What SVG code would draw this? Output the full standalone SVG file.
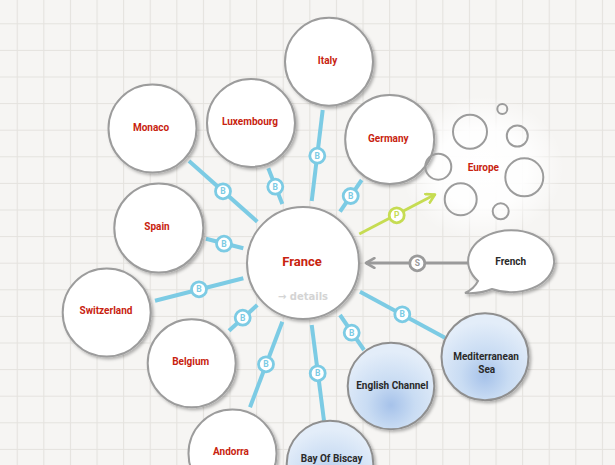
<svg xmlns="http://www.w3.org/2000/svg" width="615" height="465" viewBox="0 0 615 465">
<defs>
<pattern id="grid" x="16.7" y="23.3" width="26.6" height="26.6" patternUnits="userSpaceOnUse">
<path d="M0 0.5H26.6M0.5 0V26.6" stroke="#e4e2de" stroke-width="1.2" fill="none"/>
</pattern>
<filter id="sh" x="-20%" y="-20%" width="150%" height="150%">
<feDropShadow dx="2" dy="2" stdDeviation="1.6" flood-color="#000" flood-opacity="0.28"/>
</filter>
<radialGradient id="sea" cx="50%" cy="72%" r="62%" fx="50%" fy="72%">
<stop offset="0" stop-color="#a6c2ea"/>
<stop offset="0.45" stop-color="#c9dcf3"/>
<stop offset="1" stop-color="#e3edf9"/>
</radialGradient>
<radialGradient id="glow" cx="50%" cy="50%" r="50%">
<stop offset="0" stop-color="#ffffff" stop-opacity="1"/>
<stop offset="0.55" stop-color="#ffffff" stop-opacity="0.9"/>
<stop offset="1" stop-color="#ffffff" stop-opacity="0"/>
</radialGradient>
<marker id="ag" viewBox="0 0 10 10" refX="8" refY="5" markerWidth="4" markerHeight="4" orient="auto" markerUnits="strokeWidth">
<path d="M1 1L8 5L1 9" fill="none" stroke="#c6dc52" stroke-width="2.2" stroke-linecap="round" stroke-linejoin="round"/>
</marker>
<marker id="as" viewBox="0 0 10 10" refX="8" refY="5" markerWidth="4" markerHeight="4" orient="auto" markerUnits="strokeWidth">
<path d="M1 1L8 5L1 9" fill="none" stroke="#9a9a9a" stroke-width="2.2" stroke-linecap="round" stroke-linejoin="round"/>
</marker>
</defs>
<style>
.n{fill:#fff;stroke:#9c9c9c;stroke-width:2;filter:url(#sh)}
.s{fill:url(#sea);stroke:#8f8f8f;stroke-width:2;filter:url(#sh)}
.b{fill:none;stroke:#9c9c9c;stroke-width:2}
.t{font-family:Roboto,"Liberation Sans",sans-serif;font-weight:bold;font-size:10px;fill:#c8230f;text-anchor:middle}
.d{font-family:Roboto,"Liberation Sans",sans-serif;font-weight:bold;font-size:10px;fill:#2a2a2a;text-anchor:middle}
.e{stroke:#7ccbe4;stroke-width:4;fill:none}
.bc{fill:#fff;stroke:#7ccbe4;stroke-width:2.8}
.bt{font-family:Roboto,"Liberation Sans",sans-serif;font-weight:bold;font-size:8.5px;fill:#7ccbe4;text-anchor:middle}
</style>
<rect width="615" height="465" fill="#f6f5f3"/>
<rect width="615" height="465" fill="url(#grid)"/>
<ellipse cx="482" cy="168" rx="82" ry="72" fill="url(#glow)"/>

<g id="connectors">
<line class="e" x1="189" y1="161" x2="257.3" y2="221.7"/>
<circle class="bc" cx="223" cy="191.3" r="7.5"/><text class="bt" x="223" y="194.3">B</text>
<line class="e" x1="268.3" y1="168.3" x2="282.3" y2="204"/>
<circle class="bc" cx="275.3" cy="186.7" r="7.5"/><text class="bt" x="275.3" y="189.7">B</text>
<line class="e" x1="322.7" y1="110" x2="311.7" y2="201"/>
<circle class="bc" cx="317.3" cy="155.7" r="7.5"/><text class="bt" x="317.3" y="158.7">B</text>
<line class="e" x1="361.7" y1="180" x2="340" y2="211.7"/>
<circle class="bc" cx="350.7" cy="196" r="7.5"/><text class="bt" x="350.7" y="199">B</text>
<line class="e" x1="206" y1="238.7" x2="243.3" y2="248.3"/>
<circle class="bc" cx="224" cy="243.7" r="7.5"/><text class="bt" x="224" y="246.7">B</text>
<line class="e" x1="155" y1="300.7" x2="243.3" y2="278.3"/>
<circle class="bc" cx="199" cy="289.3" r="7.5"/><text class="bt" x="199" y="292.3">B</text>
<line class="e" x1="229" y1="330.7" x2="257.3" y2="305"/>
<circle class="bc" cx="242.7" cy="317.7" r="7.5"/><text class="bt" x="242.7" y="320.7">B</text>
<line class="e" x1="250" y1="407.3" x2="282.3" y2="321.7"/>
<circle class="bc" cx="266" cy="364.3" r="7.5"/><text class="bt" x="266" y="367.3">B</text>
<line class="e" x1="311.7" y1="325" x2="324" y2="420.7"/>
<circle class="bc" cx="317.7" cy="373.3" r="7.5"/><text class="bt" x="317.7" y="376.3">B</text>
<line class="e" x1="340" y1="315" x2="364" y2="350"/>
<circle class="bc" cx="351.7" cy="332.7" r="7.5"/><text class="bt" x="351.7" y="335.7">B</text>
<line class="e" x1="360" y1="291.7" x2="445" y2="337.7"/>
<circle class="bc" cx="402.3" cy="314.3" r="7.5"/><text class="bt" x="402.3" y="317.3">B</text>
<line x1="359.3" y1="234" x2="435" y2="194.5" stroke="#c6dc52" stroke-width="3" marker-end="url(#ag)"/>
<circle cx="396.7" cy="215.3" r="7.5" fill="#fff" stroke="#c6dc52" stroke-width="2.8"/>
<text class="bt" x="396.7" y="218.3" style="fill:#c6dc52">P</text>
<line x1="468.3" y1="263" x2="366" y2="263" stroke="#9a9a9a" stroke-width="3" marker-end="url(#as)"/>
<circle cx="417.3" cy="263.3" r="7.5" fill="#fff" stroke="#9a9a9a" stroke-width="2.8"/>
<text class="bt" x="417.3" y="266.3" style="fill:#9a9a9a">S</text>
</g>

<g id="france"><circle class="n" cx="303" cy="263" r="56"/>
<text class="t" x="302" y="265.5" style="font-size:13px">France</text>
<text x="303" y="300" style="font-family:'DejaVu Sans',sans-serif;font-weight:bold;font-size:10px;fill:#d4d4d4;text-anchor:middle">→ details</text></g>
<g id="italy"><circle class="n" cx="329" cy="61.7" r="44"/><text class="t" x="327.5" y="63.5">Italy</text></g>
<g id="monaco"><circle class="n" cx="152.5" cy="128.5" r="44"/><text class="t" x="151" y="130.5">Monaco</text></g>
<g id="luxembourg"><circle class="n" cx="251" cy="123" r="44"/><text class="t" x="250" y="125">Luxembourg</text></g>
<g id="germany"><circle class="n" cx="389.7" cy="139.5" r="44.5"/><text class="t" x="388.3" y="141.8">Germany</text></g>
<g id="spain"><circle class="n" cx="158.8" cy="228" r="44.5"/><text class="t" x="157" y="229.5">Spain</text></g>
<g id="switzerland"><circle class="n" cx="106.7" cy="312.5" r="44"/><text class="t" x="106" y="314">Switzerland</text></g>
<g id="belgium"><circle class="n" cx="191.7" cy="363.3" r="44"/><text class="t" x="190.7" y="365">Belgium</text></g>
<g id="andorra"><circle class="n" cx="232.5" cy="453.5" r="44"/><text class="t" x="231" y="455">Andorra</text></g>
<g id="mediterranean"><circle class="s" cx="485" cy="356.7" r="43.5"/><text class="d" x="486" y="359.5">Mediterranean</text><text class="d" x="486.7" y="373">Sea</text></g>
<g id="english-channel"><circle class="s" cx="391" cy="386" r="43.3"/><text class="d" x="392.3" y="389">English Channel</text></g>
<g id="bay-of-biscay"><circle class="s" cx="330" cy="464" r="43.3"/><text class="d" x="331.7" y="462">Bay Of Biscay</text></g>
<g id="europe">
<circle class="b" cx="502.3" cy="109" r="5"/>
<circle class="b" cx="470" cy="131.7" r="17"/>
<circle class="b" cx="517.3" cy="136" r="10.5"/>
<circle class="b" cx="438.3" cy="166.7" r="13"/>
<circle class="b" cx="524.3" cy="177.3" r="19"/>
<circle class="b" cx="460.7" cy="199.3" r="16"/>
<circle class="b" cx="500.7" cy="211.3" r="8"/>
<text class="t" x="483.3" y="171">Europe</text>
</g>
<g id="french">
<path d="M465,293 Q474,289 478,281 A43,31 0 1 1 492,289 Q480,294 465,293 Z" fill="#fff" stroke="#9c9c9c" stroke-width="2" filter="url(#sh)"/>
<text class="d" x="510.7" y="265">French</text>
</g>
</svg>
